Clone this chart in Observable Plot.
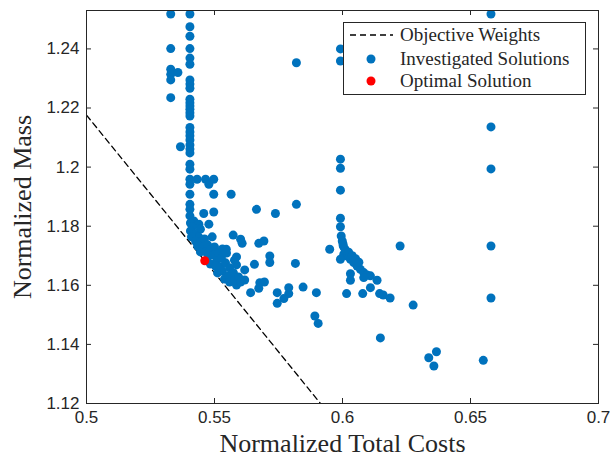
<!DOCTYPE html>
<html>
<head>
<meta charset="utf-8">
<script src="https://cdn.jsdelivr.net/npm/d3@7"></script>
<script src="https://cdn.jsdelivr.net/npm/@observablehq/plot@0.6"></script>
<style>
  body { margin: 0; background: #fff; }
  #chart { position: relative; width: 612px; height: 461px; }
  .legend {
    position: absolute; left: 343px; top: 22px; width: 243px; height: 73px;
    box-sizing: border-box; border: 1px solid #262626; background: #fff;
    font-family: "Liberation Serif", serif; font-size: 19px; color: #262626;
  }
  .legend .row { position: absolute; left: 0; height: 22px; width: 100%; }
  .legend svg { position: absolute; left: 0; top: 0; }
  .legend span { position: absolute; left: 56px; top: 0; line-height: 22px; white-space: nowrap; }
</style>
</head>
<body>
<div id="chart"></div>
<script>
// Investigated design solutions: normalized total costs and normalized mass
const solCost = [
  // left column
  0.5329, 0.5329, 0.5329, 0.5329, 0.5329, 0.5329, 0.5357, 0.5367,
  // main column
  0.5404, 0.5404, 0.5404, 0.5404, 0.5404, 0.5404, 0.5404, 0.5404, 0.5404, 0.5404,
  0.5404, 0.5404, 0.5404, 0.5404, 0.5404, 0.5404, 0.5404, 0.5404, 0.5404, 0.5404,
  0.5404, 0.5404, 0.5404, 0.5404, 0.5404, 0.5404, 0.5404, 0.5404, 0.5404, 0.5404,
  // branch near 1.19
  0.5432, 0.5465, 0.5497, 0.5478, 0.5497, 0.5565, 0.5458, 0.5497, 0.5664, 0.5738, 0.5820,
  0.5419, 0.5439, 0.5478, 0.5445, 0.5491, 0.5573, 0.5602, 0.5608, 0.5673, 0.5693,
  0.5546, 0.5586, 0.5578, 0.5586, 0.5618, 0.5656, 0.5716, 0.5716, 0.5816,
  0.5566, 0.5618, 0.5677, 0.5695, 0.5673, 0.5641, 0.5745, 0.5790, 0.5790, 0.5771,
  0.5745, 0.5846, 0.5898, 0.5892, 0.5905,
  // dense front
  0.5406, 0.5414, 0.5406, 0.5422, 0.5438, 0.5410, 0.5426, 0.5445, 0.5461, 0.5434,
  0.5453, 0.5473, 0.5445, 0.5465, 0.5484, 0.5500, 0.5477, 0.5496, 0.5516, 0.5484,
  0.5508, 0.5527, 0.5504, 0.5523, 0.5543, 0.5512, 0.5531, 0.5559, 0.5539, 0.5555,
  0.5574, 0.5559, 0.5578, 0.5594, 0.5586, 0.5602, 0.5531, 0.5547,
  // second branch near 0.60
  0.5992, 0.5992, 0.5992, 0.5992, 0.5992, 0.5995, 0.5999, 0.6003, 0.5950, 0.6225,
  0.6005, 0.6018, 0.6031, 0.6044, 0.6057, 0.6070, 0.6083, 0.6096, 0.6109, 0.5992,
  0.6031, 0.6031, 0.6083, 0.6135, 0.6109, 0.6016, 0.6079, 0.6145, 0.6159, 0.6186,
  0.6276, 0.6010, 0.6024, 0.6038, 0.6051, 0.6064, 0.6002,
  // isolated points
  0.5820, 0.5992, 0.5992,
  0.6580, 0.6580, 0.6580, 0.6580, 0.6580,
  0.6337, 0.6367, 0.6357, 0.6550, 0.6148
];
const solMass = [
  1.2518, 1.2401, 1.2331, 1.2314, 1.2295, 1.2235, 1.2320, 1.2069,
  1.2518, 1.2475, 1.2443, 1.2401, 1.2369, 1.2348, 1.2295, 1.2281, 1.2267, 1.2230,
  1.2218, 1.2207, 1.2196, 1.2184, 1.2173, 1.2134, 1.2119, 1.2106, 1.2092, 1.2075,
  1.2061, 1.2048, 1.2010, 1.1993, 1.1959, 1.1942, 1.1908, 1.1874, 1.1857, 1.1835,
  1.1959, 1.1959, 1.1959, 1.1942, 1.1908, 1.1908, 1.1843, 1.1848, 1.1857, 1.1843, 1.1874,
  1.1818, 1.1807, 1.1807, 1.1790, 1.1764, 1.1770, 1.1756, 1.1742, 1.1742, 1.1750,
  1.1722, 1.1696, 1.1685, 1.1669, 1.1652, 1.1671, 1.1699, 1.1677, 1.1674,
  1.1622, 1.1618, 1.1609, 1.1611, 1.1590, 1.1575, 1.1575, 1.1592, 1.1572, 1.1555,
  1.1539, 1.1594, 1.1575, 1.1496, 1.1471,
  1.1811, 1.1797, 1.1784, 1.1774, 1.1764, 1.1764, 1.1750, 1.1747, 1.1757, 1.1733,
  1.1730, 1.1737, 1.1713, 1.1713, 1.1720, 1.1730, 1.1699, 1.1703, 1.1709, 1.1672,
  1.1682, 1.1692, 1.1665, 1.1662, 1.1676, 1.1642, 1.1648, 1.1659, 1.1621, 1.1632,
  1.1642, 1.1611, 1.1618, 1.1628, 1.1601, 1.1611, 1.1723, 1.1709,
  1.2027, 1.1996, 1.1922, 1.1827, 1.1798, 1.1767, 1.1750, 1.1733, 1.1722, 1.1733,
  1.1705, 1.1699, 1.1688, 1.1677, 1.1665, 1.1654, 1.1643, 1.1635, 1.1632, 1.1688,
  1.1639, 1.1617, 1.1626, 1.1617, 1.1592, 1.1572, 1.1572, 1.1572, 1.1567, 1.1557,
  1.1533, 1.1722, 1.1712, 1.1700, 1.1690, 1.1678, 1.1740,
  1.2353, 1.2400, 1.2359,
  1.2518, 1.2136, 1.1994, 1.1733, 1.1557,
  1.1355, 1.1375, 1.1327, 1.1346, 1.1422
];

// Selected optimum
const optCost = [0.5462];
const optMass = [1.1683];

// Objective-weight line through the optimum
const objCost = [0.5000, 0.5914];
const objMass = [1.2176, 1.1200];

// Axis ticks and labels
const xTicks = [0.5, 0.55, 0.6, 0.65, 0.7];
const yTicks = [1.12, 1.14, 1.16, 1.18, 1.2, 1.22, 1.24];
const xLabel = "Normalized Total Costs";
const yLabel = "Normalized Mass";
const legendLabels = ["Objective Weights", "Investigated Solutions", "Optimal Solution"];

const blue = "#0072BD", red = "#FF0000", axisColor = "#262626";
const W = 612, H = 461, mL = 86, mR = 14, mT = 10, mB = 58;
const plotW = W - mL - mR, plotH = H - mT - mB;

const solutions = solCost.map((c, i) => ({cost: c, mass: solMass[i]}));
const optimum = optCost.map((c, i) => ({cost: c, mass: optMass[i]}));
const objective = objCost.map((c, i) => ({cost: c, mass: objMass[i]}));

const tickFont = {fontFamily: "Liberation Sans, Arial, sans-serif", fontSize: 17, fill: axisColor};
const labelFont = {fontFamily: "Liberation Serif, serif", fontSize: 26, fill: axisColor};

const chart = Plot.plot({
  width: W, height: H,
  marginLeft: mL, marginRight: mR, marginTop: mT, marginBottom: mB,
  x: {domain: [0.5, 0.7]},
  y: {domain: [1.12, 1.253]},
  style: {background: "#fff", overflow: "visible"},
  marks: [
    Plot.line(objective, {x: "cost", y: "mass", stroke: "#000", strokeWidth: 1.3, strokeDasharray: "6,4", clip: true}),
    Plot.dot(solutions, {x: "cost", y: "mass", r: 4.5, fill: blue, stroke: "none", clip: true}),
    Plot.dot(optimum, {x: "cost", y: "mass", r: 4.5, fill: red, stroke: "none"}),
    Plot.frame({stroke: axisColor, strokeWidth: 1}),
    // inward tick marks on all four sides
    Plot.tickX(xTicks, {x: d => d, insetTop: plotH - 5, stroke: axisColor}),
    Plot.tickX(xTicks, {x: d => d, insetBottom: plotH - 5, stroke: axisColor}),
    Plot.tickY(yTicks, {y: d => d, insetRight: plotW - 5, stroke: axisColor}),
    Plot.tickY(yTicks, {y: d => d, insetLeft: plotW - 5, stroke: axisColor}),
    Plot.axisX({ticks: xTicks, tickSize: 0, tickPadding: 7, tickFormat: d3.format("~g"), label: null, ...tickFont}),
    Plot.axisY({ticks: yTicks, tickSize: 0, tickPadding: 7, tickFormat: d3.format("~g"), label: null, ...tickFont}),
    Plot.text([xLabel], {text: d => d, frameAnchor: "bottom", lineAnchor: "top", dy: 30, ...labelFont}),
    Plot.text([yLabel], {text: d => d, frameAnchor: "left", textAnchor: "middle", rotate: -90, lineAnchor: "bottom", dx: -56, ...labelFont})
  ]
});

const root = document.getElementById("chart");
root.appendChild(chart);

// Legend box
const legend = document.createElement("div");
legend.className = "legend";
const symbols = [
  `<svg width="52" height="22"><line x1="6" x2="49" y1="11" y2="11" stroke="#000" stroke-width="1.3" stroke-dasharray="6,4"/></svg>`,
  `<svg width="52" height="22"><circle cx="27" cy="11" r="4.5" fill="${blue}"/></svg>`,
  `<svg width="52" height="22"><circle cx="27" cy="11" r="4.5" fill="${red}"/></svg>`
];
const rowTops = [1, 25, 47];
legendLabels.forEach((t, i) => {
  const row = document.createElement("div");
  row.className = "row";
  row.style.top = rowTops[i] + "px";
  row.innerHTML = symbols[i] + `<span>${t}</span>`;
  legend.appendChild(row);
});
root.appendChild(legend);
</script>
</body>
</html>
